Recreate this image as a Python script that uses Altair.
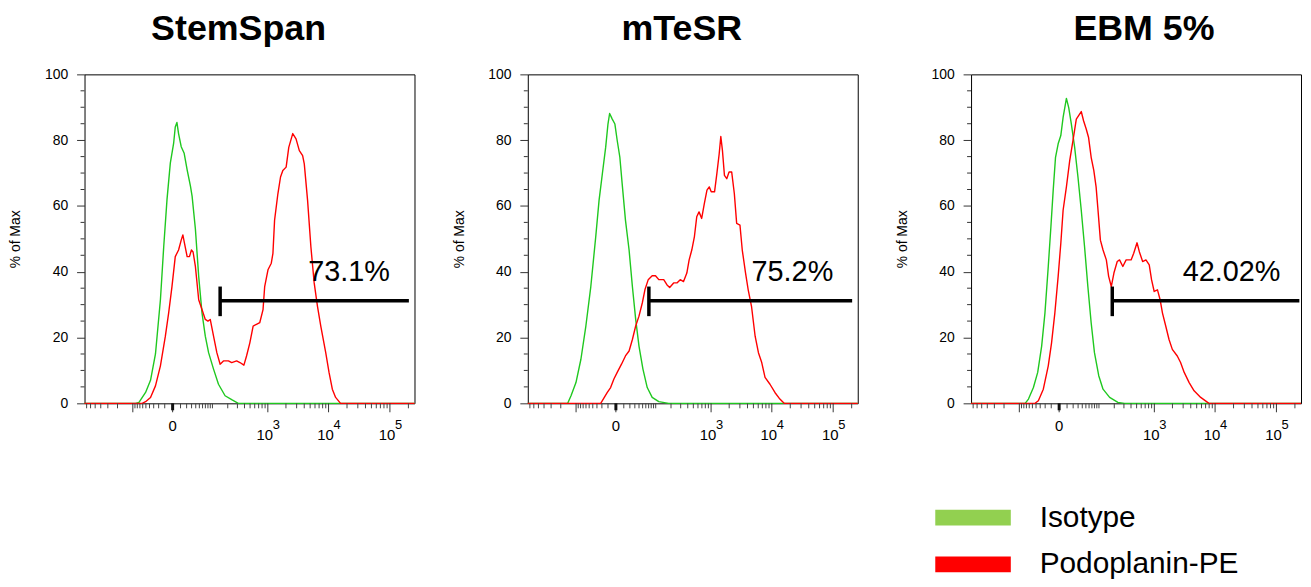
import math
import altair as alt
import pandas as pd

PANELS = ["StemSpan", "mTeSR", "EBM 5%"]
TITLE_SHIFT = [-11, -11, 8]
SERIES = ["Isotype", "Podoplanin-PE"]
LINE_COLORS = ["#1fc81f", "#ff0000"]
LEGEND_COLORS = ["#92d050", "#ff0000"]

# x values are display channels (0-1000 across the biexponential axis), y is % of Max
STEMSPAN_ISO_X = [0, 155, 165, 185, 200, 215, 230, 240, 250, 260, 270, 275, 280, 285, 293, 302, 311, 321, 326, 336,
                  346, 356, 366, 376, 391, 406, 426, 446, 466, 1000]
STEMSPAN_ISO_Y = [0, 0, 0.3, 3.3, 7, 15, 31.5, 47.6, 62, 73, 79, 84, 85.4, 82, 78, 76, 71, 66, 63, 53,
                  38.6, 27.5, 20.4, 15.4, 10.4, 5.8, 2.3, 1.1, 0, 0]
STEMSPAN_PDPN_X = [0, 175, 185, 200, 215, 230, 245, 255, 265, 275, 285, 293, 298, 303, 311, 318, 324, 329, 336, 346,
                   356, 366, 374, 381, 391, 401, 411, 421, 436, 446, 461, 471, 483, 491, 501, 511, 521, 531, 541, 546,
                   556, 566, 571, 576, 586, 594, 601, 611, 619, 631, 641, 651, 661, 666, 676, 686, 696, 706, 716, 731,
                   741, 751, 761, 776, 1000]
STEMSPAN_PDPN_Y = [0, 0, 0.5, 1.8, 5.3, 11.4, 20.4, 27.5, 35.5, 44.6, 46.6, 49.6, 51.2, 48.6, 44.6, 44.6, 46.6, 46, 41.6, 31.5,
                   28.5, 25.5, 25, 25.5, 20.4, 15.4, 11.9, 12.9, 12.9, 12.4, 12.9, 12.4, 11.6, 14.4, 18.4, 23.5, 24, 24.5, 28.5, 35.5,
                   40.6, 42.6, 45.6, 55.7, 63.7, 68.8, 70.8, 71.8, 77.8, 82, 80.4, 76.8, 75.3, 72.8, 61.7, 47.6, 36.6, 29.5, 23.5, 15.4,
                   9.4, 4.3, 1.8, 0, 0]

MTESR_ISO_X = [0, 121, 131, 146, 161, 176, 191, 206, 216, 226, 236, 243, 248, 256, 264, 271, 279, 286, 296, 307,
               317, 327, 337, 349, 362, 377, 397, 427, 1000]
MTESR_ISO_Y = [0, 0, 2.3, 6.3, 13.4, 23.5, 35.5, 50.7, 61.7, 69.8, 77.8, 84.9, 88.1, 86.4, 84.9, 79.9, 74.8, 66.8, 55.7, 46.6,
               35.5, 25.5, 17.4, 10.4, 4.8, 1.8, 0.5, 0, 0]
MTESR_PDPN_X = [0, 221, 226, 241, 251, 261, 271, 284, 296, 307, 317, 327, 337, 347, 355, 365, 377, 387, 397, 412,
                422, 430, 442, 452, 462, 472, 482, 489, 497, 505, 512, 519, 527, 535, 543, 550, 556, 566, 573, 580,
                585, 590, 596, 603, 610, 618, 626, 633, 643, 650, 660, 668, 678, 689, 699, 709, 719, 734, 749, 764,
                777, 1000]
MTESR_PDPN_Y = [0, 0, 0.8, 3.3, 4.8, 7.4, 9.4, 11.9, 14.4, 15.9, 19.4, 23.5, 26.5, 30.5, 34.5, 37.6, 38.8, 38.8, 37.6, 37.6,
                36, 35.2, 36.6, 36.6, 37.6, 37, 39.6, 43.6, 46.6, 50.7, 56.7, 58.2, 56.2, 60.7, 64.8, 65.8, 64.3, 64.3, 69.8, 75.8,
                81.1, 76.8, 69.3, 68.3, 70.3, 70.3, 63.7, 54.7, 54.2, 46.6, 39.6, 34.5, 29.5, 20.4, 15.4, 12.4, 7.9, 5.8, 3.3, 1.3,
                0, 0]

EBM_ISO_X = [0, 164, 174, 189, 202, 214, 224, 234, 242, 249, 256, 264, 272, 279, 289, 296, 304, 314, 324, 334,
             344, 354, 364, 374, 387, 400, 420, 445, 465, 1000]
EBM_ISO_Y = [0, 0, 1.3, 4.8, 9.4, 17.4, 27.5, 41.6, 53.7, 64.8, 74.8, 78.9, 81.4, 86.9, 92.7, 89.9, 84.9, 77.8, 68.8, 58.7,
             47.6, 35.5, 24.5, 15.4, 8.4, 4.3, 1.8, 0.3, 0, 0]
EBM_PDPN_X = [0, 194, 204, 219, 234, 244, 254, 264, 272, 279, 289, 299, 309, 319, 327, 334, 341, 349, 356, 364,
              372, 379, 384, 392, 400, 410, 417, 425, 433, 443, 450, 460, 470, 485, 493, 503, 510, 520, 530, 540,
              547, 555, 565, 573, 580, 590, 600, 610, 625, 635, 646, 661, 676, 696, 721, 1000]
EBM_PDPN_Y = [0, 0, 0.8, 4.3, 11.4, 18.4, 27.5, 38.6, 48.6, 58.7, 65.8, 73.8, 79.9, 86.4, 87.6, 88.7, 85.9, 83.4, 80.9, 74.8,
              70.8, 65.8, 59.7, 49.6, 46.6, 43.6, 38.6, 35.5, 39.6, 43.1, 43.6, 41.6, 43.6, 43.6, 45.6, 48.8, 46.1, 43.1, 43.6, 42.1,
              37.6, 34, 34.5, 31.5, 27.5, 23.5, 19.4, 16.4, 14.4, 12.4, 9.4, 6.3, 3.8, 1.8, 0, 0]

CURVES = [
    (STEMSPAN_ISO_X, STEMSPAN_ISO_Y, STEMSPAN_PDPN_X, STEMSPAN_PDPN_Y),
    (MTESR_ISO_X, MTESR_ISO_Y, MTESR_PDPN_X, MTESR_PDPN_Y),
    (EBM_ISO_X, EBM_ISO_Y, EBM_PDPN_X, EBM_PDPN_Y),
]

# positive gate markers
GATE_START = [411, 367, 428]
GATE_END = [983, 983, 995]
GATE_LEVEL = [31.2, 31.2, 31.2]
GATE_LOW = [26.5, 26.5, 26.5]
GATE_HIGH = [35.5, 35.5, 35.5]
GATE_LABELS = ["73.1%", "75.2%", "42.02%"]
GATE_LABEL_LEVEL = 40

# y axis
Y_TICKS = [0, 20, 40, 60, 80, 100]
Y_MINOR = [5, 10, 15, 25, 30, 35, 45, 50, 55, 65, 70, 75, 85, 90, 95]

# x axis: biexponential (symlog-like) mapping of fluorescence to display channel
ZERO_CH = 267.0
NAT_CH = 80.84
SYMLOG_C = 29.0
MAJOR_VALUES = [0, 1000, 10000, 100000]
MAJOR_EXPONENTS = ["", "3", "4", "5"]
LONG_TICK_VALUES = [-100, 0, 1000, 10000, 100000]
MINOR_VALUES = ([-m * 10 for m in range(1, 10)] + [-m * 100 for m in range(2, 8)] +
                [m * 10 for m in range(1, 10)] + [m * 100 for m in range(1, 10)] +
                [m * 1000 for m in range(2, 10)] + [m * 10000 for m in range(2, 10)] + [200000])


def to_channel(v):
    return ZERO_CH + math.copysign(NAT_CH * math.log1p(abs(v) / SYMLOG_C), v)


W, H = 332, 331
FONT = "Liberation Sans"
XS = alt.Scale(domain=[0, 1000], nice=False, zero=False)
YS = alt.Scale(domain=[0, 100], nice=False)
Y_AXIS = alt.Axis(
    values=Y_TICKS, title="% of Max", titleFontSize=14, titleFontWeight="normal",
    titleColor="black", titlePadding=20, labelFontSize=14, labelColor="black",
    labelPadding=9, tickSize=8, tickColor="#333", domain=False, grid=False,
    minExtent=42, maxExtent=42)


def xq(field):
    return alt.X(field, type="quantitative", scale=XS, axis=None)


def yq(field):
    return alt.Y(field, type="quantitative", scale=YS, axis=Y_AXIS)


def panel(i):
    ix, iy, px, py = CURVES[i]
    rows = []
    for s, xs, ys in ((SERIES[0], ix, iy), (SERIES[1], px, py)):
        for k, (a, b) in enumerate(zip(xs, ys)):
            rows.append({"series": s, "ch": a, "pct": b, "k": k})
    df = pd.DataFrame(rows)

    lines = alt.Chart(df).mark_line(strokeWidth=1.4, strokeJoin="round").encode(
        x=xq("ch"),
        y=yq("pct"),
        stroke=alt.Stroke("series:N", scale=alt.Scale(domain=SERIES, range=LINE_COLORS), legend=None),
        order="k:Q",
    )

    ymin = alt.Chart(pd.DataFrame({"v": Y_MINOR})).mark_rule(color="#333", strokeWidth=1).encode(
        y=yq("v"), x=alt.value(-4), x2=alt.value(0))

    minor_df = pd.DataFrame({"ch": [to_channel(v) for v in MINOR_VALUES]})
    minor_df = minor_df[(minor_df.ch >= 0) & (minor_df.ch <= 1000)]
    xmin = alt.Chart(minor_df).mark_rule(color="#444", strokeWidth=1).encode(
        x=xq("ch"), y=alt.value(H), y2=alt.value(H + 5))
    xmaj = alt.Chart(pd.DataFrame({"ch": [to_channel(v) for v in LONG_TICK_VALUES]})).mark_rule(
        color="#333", strokeWidth=1).encode(
        x=xq("ch"), y=alt.value(H), y2=alt.value(H + 9))
    xzero = alt.Chart(pd.DataFrame({"ch": [to_channel(0)]})).mark_rule(
        color="#111", strokeWidth=3).encode(
        x=xq("ch"), y=alt.value(H), y2=alt.value(H + 7))

    lab = pd.DataFrame({"ch": [to_channel(v) for v in MAJOR_VALUES],
                        "base": ["0" if e == "" else "10" for e in MAJOR_EXPONENTS],
                        "exp": MAJOR_EXPONENTS})
    zero_lab = alt.Chart(lab[lab.exp == ""]).mark_text(fontSize=15, color="black", baseline="middle").encode(
        x=xq("ch"), y=alt.value(H + 23), text="base:N")
    pow_lab = alt.Chart(lab[lab.exp != ""]).mark_text(fontSize=15, color="black", baseline="middle", dx=-3).encode(
        x=xq("ch"), y=alt.value(H + 32), text="base:N")
    exp_lab = alt.Chart(lab[lab.exp != ""]).mark_text(fontSize=13, color="black", baseline="middle",
                                                      align="left", dx=5).encode(
        x=xq("ch"), y=alt.value(H + 22), text="exp:N")

    gate = pd.DataFrame({"start": [GATE_START[i]], "end": [GATE_END[i]], "lvl": [GATE_LEVEL[i]],
                         "lo": [GATE_LOW[i]], "hi": [GATE_HIGH[i]], "label": [GATE_LABELS[i]],
                         "ly": [GATE_LABEL_LEVEL]})
    gbase = alt.Chart(gate)
    ghor = gbase.mark_rule(color="black", strokeWidth=3.5).encode(
        x=xq("start"), x2="end:Q", y=yq("lvl"))
    gver = gbase.mark_rule(color="black", strokeWidth=3.5).encode(
        x=xq("start"), y=yq("lo"), y2="hi:Q")
    gtxt = gbase.mark_text(fontSize=29, color="black", align="right", baseline="middle", dx=-19).encode(
        x=xq("end"), y=yq("ly"), text="label:N")

    main = alt.layer(lines, ymin, xmin, xmaj, xzero, zero_lab, pow_lab, exp_lab, ghor, gver, gtxt)
    title = alt.TitleParams(PANELS[i], fontSize=36, fontWeight="bold", color="black",
                            anchor="middle", frame="group", baseline="alphabetic", offset=-8,
                            dx=TITLE_SHIFT[i])

    if i == 2:
        # legend rows below the third panel, placed through their own point scale
        ldf = pd.DataFrame({"series": SERIES})
        ly = alt.Y("series:N", scale=alt.Scale(type="point", domain=SERIES, range=[H + 115, H + 162], padding=0),
                   axis=None)
        lc = alt.Color("series:N", scale=alt.Scale(domain=SERIES, range=LEGEND_COLORS), legend=None)
        swatch = alt.Chart(ldf).mark_rule(strokeWidth=16, strokeCap="butt").encode(
            y=ly, x=alt.value(-36), x2=alt.value(40), color=lc)
        ltext = alt.Chart(ldf).mark_text(fontSize=30, color="black", align="left", baseline="middle").encode(
            y=ly, x=alt.value(69), text="series:N")
        legend = alt.layer(swatch, ltext)
        return alt.layer(main, legend).resolve_scale(y="independent").properties(
            width=W, height=H, title=title)

    return main.properties(width=W, height=H, title=title)


chart = alt.hconcat(*[panel(i) for i in range(3)], spacing=35).properties(
    padding={"left": 0, "top": 0, "right": 0, "bottom": 0}
).configure(font=FONT).configure_view(stroke="black", strokeWidth=1)

chart.save("out.html", embed_options={"renderer": "svg", "actions": False})
